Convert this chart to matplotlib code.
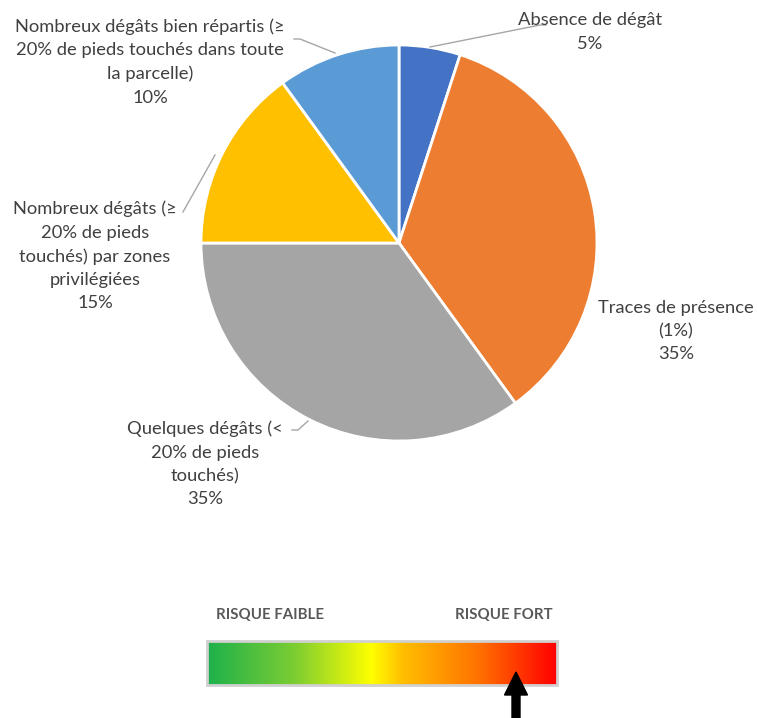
import numpy as np
import matplotlib.pyplot as plt
from matplotlib.colors import LinearSegmentedColormap
from matplotlib.patches import Rectangle, FancyArrow

# Répartition des parcelles selon l'intensité des dégâts
categories = [
    "Absence de dégât",
    "Traces de présence\n(1%)",
    "Quelques dégâts (<\n20% de pieds\ntouchés)",
    "Nombreux dégâts (≥\n20% de pieds\ntouchés) par zones\nprivilégiées",
    "Nombreux dégâts bien répartis (≥\n20% de pieds touchés dans toute\nla parcelle)",
]
values = [5, 35, 35, 15, 10]
colors = ["#4472C4", "#ED7D31", "#A5A5A5", "#FFC000", "#5B9BD5"]

# Échelle de risque
risk_labels = ["RISQUE FAIBLE", "RISQUE FORT"]
risk_stops = [0.0, 0.25, 0.47, 0.56, 0.78, 1.0]
risk_colors = ["#1db14b", "#7ccd32", "#ffff00", "#ffbe00", "#ff7000", "#ff0000"]

W, H = 757, 718
fig = plt.figure(figsize=(W / 100, H / 100), dpi=100)
ax = fig.add_axes([0, 0, 1, 1])

plt.rcParams["font.family"] = ["Lato", "DejaVu Sans"]
txt = "#404040"
line_col = "#a6a6a6"

def Y(py):
    return H - py

# camembert
cx, cy, r = 399, 243, 198
ax.pie(values, colors=colors, startangle=90, counterclock=False,
       center=(cx, Y(cy)), radius=r, frame=True,
       wedgeprops=dict(edgecolor="white", linewidth=2))

# étiquettes
label_pos = [(590, 32), (676, 331), (205, 464), (95, 256), (150, 62)]
for name, v, (lx, ly) in zip(categories, values, label_pos):
    ax.text(lx, Y(ly), f"{name}\n{v}%", ha="center", va="center",
            fontsize=13.2, color=txt, linespacing=1.56)

# lignes de rappel
leaders = [
    [(430, 47), (540, 25), (546, 25)],
    [(308, 421), (298, 430), (292, 430)],
    [(215, 155), (183, 212)],
    [(335, 53), (300, 39), (294, 39)],
]
for pts in leaders:
    xs = [p[0] for p in pts]
    ys = [Y(p[1]) for p in pts]
    ax.plot(xs, ys, color=line_col, lw=1)

# barre de risque en dégradé
cmap = LinearSegmentedColormap.from_list("risque", list(zip(risk_stops, risk_colors)))
x0, x1, y0, y1 = 207, 557, 641, 685
grad = np.linspace(0, 1, 512).reshape(1, -1)
ax.imshow(grad, cmap=cmap, aspect="auto", extent=(x0, x1, Y(y1), Y(y0)), zorder=2)
ax.add_patch(Rectangle((x0, Y(y1)), x1 - x0, y1 - y0, fill=False,
                       edgecolor="#d0d0d0", lw=2, zorder=3))
ax.text(270, Y(615), risk_labels[0], ha="center", va="center",
        fontsize=10.8, fontweight="bold", color="#595959")
ax.text(504, Y(615), risk_labels[1], ha="center", va="center",
        fontsize=10.8, fontweight="bold", color="#595959")

# flèche indiquant le niveau de risque
ax.add_patch(FancyArrow(516, Y(720), 0, 48, width=8, head_width=23,
                        head_length=23, length_includes_head=True,
                        color="black", zorder=4))

ax.set_xlim(0, W)
ax.set_ylim(0, H)
ax.set_aspect("equal")
ax.axis("off")
fig.savefig("out.png", dpi=100, facecolor="white")
